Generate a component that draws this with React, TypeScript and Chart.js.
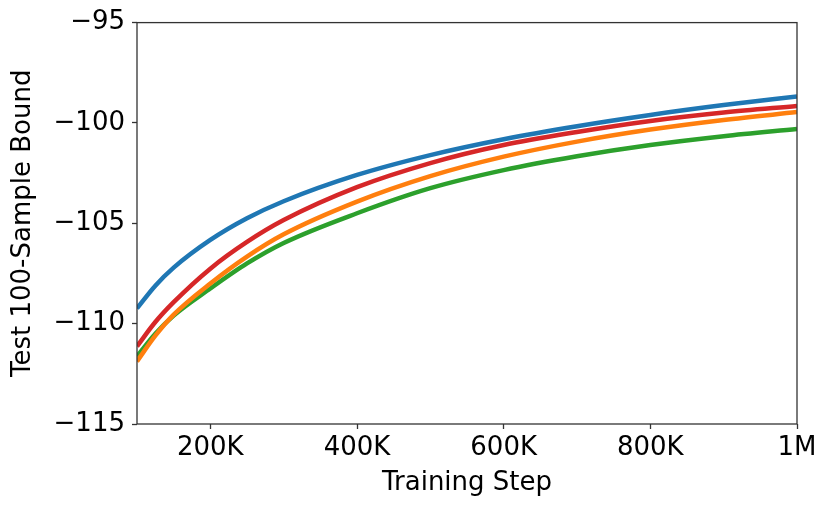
import { useEffect, useRef } from 'react';
import { Chart, registerables } from 'chart.js';

Chart.register(...registerables);

const steps = [100000, 125000, 150000, 200000, 250000, 300000, 400000, 500000, 600000, 700000, 800000, 900000, 1000000];

const blueVals = [-109.24, -108.11, -107.21, -105.83, -104.75, -103.9, -102.59, -101.6, -100.81, -100.16, -99.6, -99.11, -98.68];
const orangeVals = [-111.88, -110.6, -109.55, -108.0, -106.66, -105.55, -103.92, -102.65, -101.68, -100.93, -100.33, -99.85, -99.46];
const greenVals = [-111.63, -110.5, -109.6, -108.25, -107.0, -105.98, -104.5, -103.25, -102.35, -101.66, -101.1, -100.66, -100.3];
const redVals = [-111.13, -109.92, -108.93, -107.26, -105.93, -104.84, -103.2, -102.0, -101.1, -100.45, -99.9, -99.48, -99.15];

const xTicks = [200000, 400000, 600000, 800000, 1000000];
const yTicks = [-115, -110, -105, -100, -95];

const FONT = 'DejaVu Sans';

const frame = {
  id: 'frame',
  afterDatasetsDraw(chart: any) {
    const { ctx, chartArea } = chart;
    ctx.save();
    ctx.strokeStyle = '#333';
    ctx.lineWidth = 1.3;
    ctx.strokeRect(chartArea.left, chartArea.top, chartArea.right - chartArea.left, chartArea.bottom - chartArea.top);
    ctx.restore();
  },
};

function pts(vals: number[]) {
  return steps.map((s, i) => ({ x: s, y: vals[i] }));
}

export default function App() {
  const canvasRef = useRef<HTMLCanvasElement>(null);
  const chartRef = useRef<Chart | null>(null);

  useEffect(() => {
    const ctx = canvasRef.current?.getContext('2d');
    if (!ctx) return;
    if (chartRef.current) chartRef.current.destroy();

    const line = (vals: number[], color: string) => ({
      data: pts(vals),
      borderColor: color,
      backgroundColor: color,
      borderWidth: 4.5,
      pointRadius: 0,
      cubicInterpolationMode: 'monotone' as const,
      fill: false,
    });

    chartRef.current = new Chart(ctx, {
      type: 'line',
      data: {
        datasets: [
          line(blueVals, '#1f77b4'),
          line(orangeVals, '#ff7f0e'),
          line(greenVals, '#2ca02c'),
          line(redVals, '#d62728'),
        ],
      },
      options: {
        animation: false,
        responsive: false,
        maintainAspectRatio: false,
        layout: { padding: { left: 0, top: 22, right: 34, bottom: 0 } },
        plugins: { legend: { display: false }, tooltip: { enabled: false } },
        scales: {
          x: {
            type: 'linear',
            min: 100000,
            max: 1000000,
            afterBuildTicks: (axis: any) => {
              axis.ticks = xTicks.map((v) => ({ value: v }));
            },
            afterFit: (axis: any) => {
              axis.height = 85;
            },
            border: { display: false },
            grid: { drawOnChartArea: false, drawTicks: true, tickLength: 5, tickColor: '#333', tickWidth: 1.3 },
            ticks: {
              color: '#000',
              padding: 4,
              maxRotation: 0,
              font: { family: FONT, size: 26 },
              callback: (v: any) => (v >= 1000000 ? `${v / 1000000}M` : `${v / 1000}K`),
            },
            title: {
              display: true,
              text: 'Training Step',
              color: '#000',
              font: { family: FONT, size: 26 },
              padding: { top: 0, bottom: 10 },
            },
          },
          y: {
            min: -115,
            max: -95,
            afterBuildTicks: (axis: any) => {
              axis.ticks = yTicks.map((v) => ({ value: v }));
            },
            afterFit: (axis: any) => {
              axis.width = 137;
            },
            border: { display: false },
            grid: { drawOnChartArea: false, drawTicks: true, tickLength: 5, tickColor: '#333', tickWidth: 1.3 },
            ticks: {
              color: '#000',
              padding: 7,
              font: { family: FONT, size: 26 },
              callback: (v: any) => (v < 0 ? `\u2212${Math.abs(v)}` : `${v}`),
            },
            title: {
              display: true,
              text: 'Test 100-Sample Bound',
              color: '#000',
              font: { family: FONT, size: 26 },
              padding: { top: 8, bottom: 0 },
            },
          },
        },
      },
      plugins: [frame],
    });

    return () => {
      if (chartRef.current) {
        chartRef.current.destroy();
        chartRef.current = null;
      }
    };
  }, []);

  return (
    <div style={{ position: 'absolute', left: 0, top: 0, width: 831, height: 509, background: '#fff' }}>
      <canvas ref={canvasRef} width={831} height={509} style={{ width: 831, height: 509 }} />
    </div>
  );
}
